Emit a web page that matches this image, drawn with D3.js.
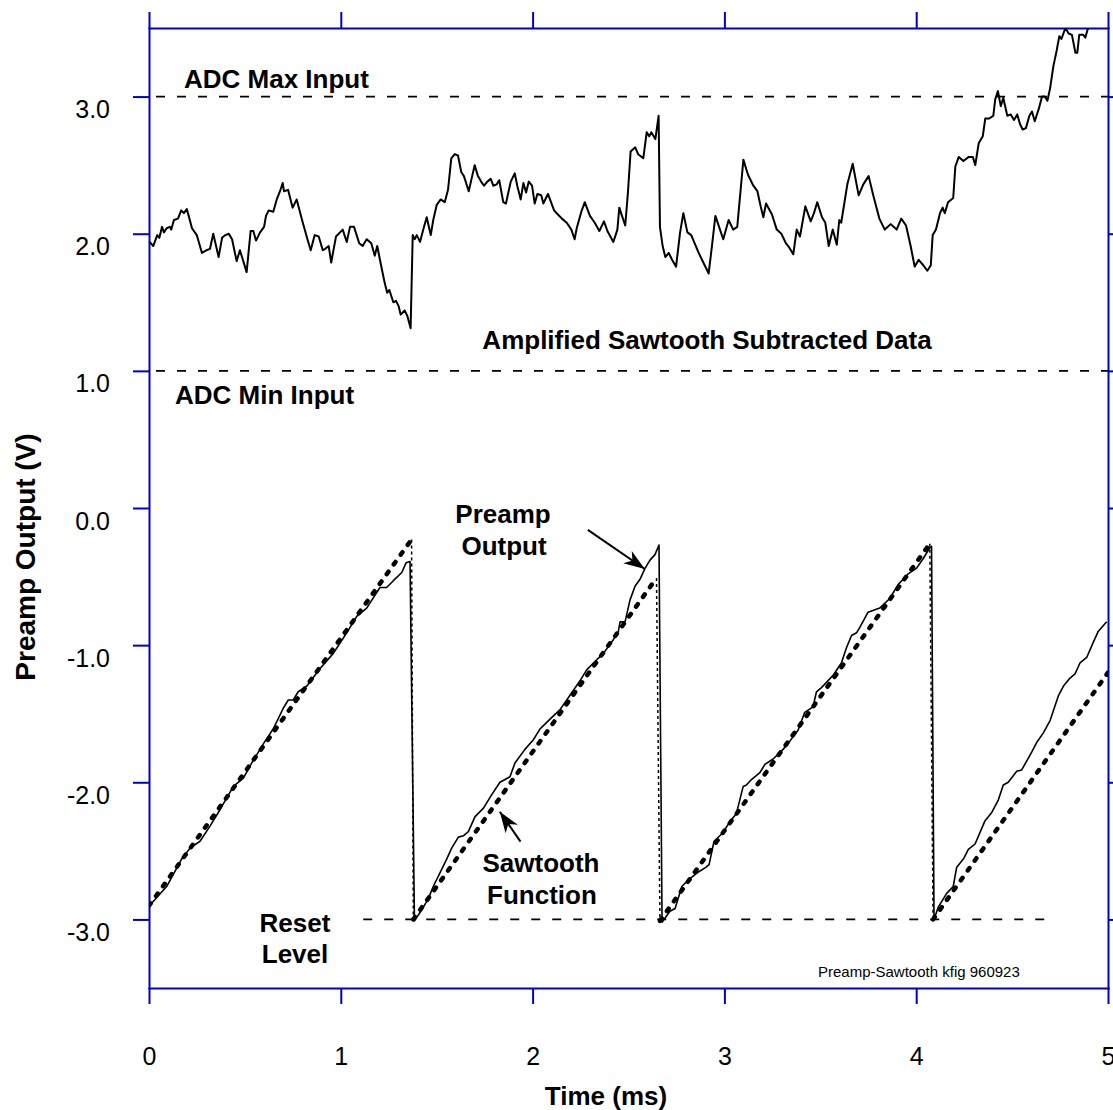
<!DOCTYPE html>
<html>
<head>
<meta charset="utf-8">
<script src="https://cdn.jsdelivr.net/npm/d3@7"></script>
<style>
    body { margin: 0; background: #ffffff; }
    text { font-family: "Liberation Sans", Arial, sans-serif; fill: #000000; }
</style>
</head>
<body>
<div id="chart"></div>
<script>
// Tick values for both axes
const timeTicks = [0, 1, 2, 3, 4, 5];
const voltTicks = [-3, -2, -1, 0, 1, 2, 3];

// ADC input limits and the reset level (V), reset line runs between two times (ms)
const adcLimits = [3.0, 1.0];
const resetLevel = -3.0;
const resetSpan = [1.117, 4.706];

// Amplified sawtooth subtracted data: [time ms, volts]
const subtractedData = [
    [0.004, 1.94], [0.022, 1.91], [0.043, 1.99], [0.054, 1.97], [0.068, 2.05], [0.078, 2.01], [0.092, 2.04],
    [0.109, 2.05], [0.116, 2.03], [0.130, 2.10], [0.151, 2.11], [0.168, 2.17], [0.182, 2.15], [0.197, 2.18],
    [0.207, 2.13], [0.224, 2.04], [0.249, 1.99], [0.276, 1.86], [0.301, 1.88], [0.318, 1.89], [0.335, 2.00],
    [0.363, 1.83], [0.381, 1.97], [0.398, 1.99], [0.416, 2.00], [0.433, 1.96], [0.457, 1.80], [0.474, 1.88],
    [0.509, 1.72], [0.530, 2.02], [0.544, 2.02], [0.558, 1.95], [0.579, 2.01], [0.600, 2.05], [0.610, 2.13],
    [0.624, 2.17], [0.648, 2.16], [0.666, 2.25], [0.683, 2.31], [0.697, 2.37], [0.704, 2.31], [0.725, 2.32],
    [0.749, 2.19], [0.770, 2.25], [0.798, 2.10], [0.822, 1.98], [0.843, 1.88], [0.864, 1.99], [0.885, 1.98],
    [0.906, 1.88], [0.919, 1.89], [0.937, 1.91], [0.950, 1.79], [0.975, 1.98], [0.996, 2.01], [1.010, 2.03],
    [1.031, 1.94], [1.048, 2.05], [1.069, 2.05], [1.096, 1.93], [1.114, 1.91], [1.135, 1.96], [1.159, 1.93],
    [1.177, 1.84], [1.190, 1.91], [1.204, 1.81], [1.229, 1.64], [1.242, 1.57], [1.253, 1.59], [1.274, 1.50],
    [1.288, 1.51], [1.302, 1.47], [1.312, 1.41], [1.333, 1.44], [1.347, 1.40], [1.364, 1.31], [1.375, 1.99],
    [1.385, 1.96], [1.396, 1.99], [1.413, 1.94], [1.430, 2.03], [1.448, 2.12], [1.469, 1.99], [1.482, 2.10],
    [1.500, 2.21], [1.521, 2.25], [1.542, 2.23], [1.559, 2.32], [1.576, 2.55], [1.594, 2.58], [1.611, 2.57],
    [1.628, 2.45], [1.642, 2.42], [1.667, 2.31], [1.698, 2.50], [1.715, 2.42], [1.736, 2.37], [1.747, 2.35],
    [1.764, 2.38], [1.782, 2.40], [1.795, 2.35], [1.813, 2.36], [1.826, 2.39], [1.847, 2.23], [1.861, 2.22],
    [1.886, 2.38], [1.907, 2.44], [1.920, 2.35], [1.938, 2.25], [1.952, 2.37], [1.966, 2.30], [1.980, 2.38],
    [1.997, 2.35], [2.011, 2.22], [2.025, 2.29], [2.045, 2.28], [2.056, 2.22], [2.080, 2.29], [2.112, 2.17],
    [2.132, 2.14], [2.153, 2.11], [2.178, 2.08], [2.202, 2.03], [2.219, 1.96], [2.230, 2.04], [2.254, 2.16],
    [2.272, 2.23], [2.299, 2.13], [2.324, 2.08], [2.348, 2.02], [2.372, 2.09], [2.390, 2.02], [2.421, 1.94],
    [2.442, 2.03], [2.452, 2.19], [2.466, 2.13], [2.483, 2.06], [2.497, 2.30], [2.511, 2.60], [2.535, 2.63],
    [2.550, 2.58], [2.577, 2.55], [2.595, 2.74], [2.608, 2.71], [2.619, 2.74], [2.640, 2.69], [2.657, 2.86],
    [2.664, 2.05], [2.678, 1.91], [2.692, 1.83], [2.710, 1.86], [2.727, 1.81], [2.748, 1.76], [2.769, 2.01],
    [2.786, 2.15], [2.807, 2.01], [2.827, 1.99], [2.845, 1.93], [2.866, 1.86], [2.890, 1.79], [2.918, 1.71],
    [2.935, 1.91], [2.953, 2.13], [2.977, 2.03], [2.994, 1.96], [3.022, 2.10], [3.046, 2.03], [3.067, 2.05],
    [3.099, 2.54], [3.123, 2.43], [3.151, 2.35], [3.172, 2.31], [3.189, 2.20], [3.203, 2.12], [3.217, 2.22],
    [3.248, 2.14], [3.273, 2.03], [3.297, 2.00], [3.321, 1.93], [3.338, 1.90], [3.359, 1.85], [3.377, 2.03],
    [3.394, 1.98], [3.422, 2.20], [3.450, 2.09], [3.467, 2.15], [3.484, 2.23], [3.509, 2.12], [3.526, 2.08],
    [3.544, 1.91], [3.565, 2.03], [3.586, 1.92], [3.599, 2.10], [3.609, 2.08], [3.641, 2.36], [3.669, 2.51],
    [3.700, 2.28], [3.724, 2.36], [3.752, 2.42], [3.776, 2.28], [3.808, 2.11], [3.836, 2.03], [3.867, 2.07],
    [3.898, 2.03], [3.922, 2.11], [3.947, 2.06], [3.971, 1.91], [3.992, 1.76], [4.013, 1.81], [4.037, 1.77],
    [4.058, 1.73], [4.076, 1.77], [4.086, 1.99], [4.103, 2.03], [4.124, 2.15], [4.138, 2.19], [4.149, 2.15],
    [4.166, 2.23], [4.193, 2.26], [4.204, 2.49], [4.222, 2.56], [4.246, 2.53], [4.274, 2.56], [4.295, 2.56],
    [4.308, 2.50], [4.326, 2.66], [4.347, 2.71], [4.360, 2.84], [4.381, 2.84], [4.402, 2.86], [4.412, 2.98],
    [4.426, 3.04], [4.441, 2.93], [4.454, 2.99], [4.475, 2.86], [4.493, 2.87], [4.510, 2.83], [4.527, 2.87],
    [4.541, 2.80], [4.555, 2.76], [4.572, 2.77], [4.590, 2.86], [4.604, 2.89], [4.618, 2.82], [4.639, 2.91],
    [4.656, 3.00], [4.670, 3.00], [4.684, 2.97], [4.698, 3.06], [4.715, 3.22], [4.733, 3.34], [4.746, 3.44],
    [4.757, 3.42], [4.778, 3.50], [4.795, 3.46], [4.812, 3.45], [4.830, 3.32], [4.840, 3.32], [4.850, 3.45],
    [4.871, 3.45], [4.882, 3.43], [4.896, 3.50], [4.930, 3.58], [4.970, 3.62], [5.000, 3.60]
];

// Preamp output: [time ms, volts]
const preampOutput = [
    [0.002, -2.90], [0.092, -2.76], [0.170, -2.56], [0.214, -2.48], [0.266, -2.43], [0.318, -2.32], [0.370, -2.20],
    [0.440, -2.03], [0.492, -1.97], [0.535, -1.86], [0.596, -1.72], [0.648, -1.61], [0.700, -1.46], [0.726, -1.40],
    [0.752, -1.40], [0.778, -1.34], [0.822, -1.30], [0.892, -1.17], [0.961, -1.06], [1.031, -0.91], [1.083, -0.79],
    [1.135, -0.73], [1.204, -0.58], [1.239, -0.58], [1.274, -0.53], [1.318, -0.47], [1.340, -0.40], [1.361, -0.39],
    [1.384, -3.01],
    [1.413, -2.95], [1.456, -2.85], [1.482, -2.76], [1.517, -2.66], [1.552, -2.56], [1.578, -2.48], [1.613, -2.40],
    [1.639, -2.39], [1.665, -2.36], [1.700, -2.25], [1.743, -2.19], [1.787, -2.09], [1.830, -2.00], [1.882, -1.96],
    [1.908, -1.86], [1.960, -1.76], [2.004, -1.69], [2.039, -1.61], [2.091, -1.54], [2.143, -1.47], [2.178, -1.40],
    [2.247, -1.26], [2.282, -1.18], [2.317, -1.13], [2.369, -1.06], [2.421, -0.96], [2.447, -0.90], [2.456, -0.83],
    [2.482, -0.83], [2.508, -0.67], [2.534, -0.57], [2.560, -0.52], [2.586, -0.44], [2.612, -0.38], [2.638, -0.34],
    [2.659, -0.27], [2.675, -3.02],
    [2.716, -2.94], [2.743, -2.92], [2.778, -2.76], [2.814, -2.71], [2.858, -2.66], [2.903, -2.62], [2.920, -2.60],
    [2.946, -2.43], [2.991, -2.37], [3.027, -2.29], [3.062, -2.23], [3.080, -2.13], [3.098, -2.03], [3.115, -2.02],
    [3.141, -1.98], [3.185, -1.93], [3.211, -1.87], [3.254, -1.83], [3.306, -1.76], [3.341, -1.70], [3.384, -1.62],
    [3.419, -1.49], [3.462, -1.45], [3.480, -1.34], [3.506, -1.31], [3.567, -1.22], [3.610, -1.13], [3.636, -1.02],
    [3.663, -0.93], [3.689, -0.91], [3.706, -0.87], [3.749, -0.76], [3.810, -0.73], [3.862, -0.66], [3.905, -0.56],
    [3.958, -0.48], [4.001, -0.44], [4.036, -0.37], [4.071, -0.29], [4.080, -0.28], [4.093, -3.00],
    [4.115, -2.91], [4.159, -2.81], [4.193, -2.76], [4.211, -2.62], [4.246, -2.56], [4.272, -2.49], [4.307, -2.45],
    [4.359, -2.28], [4.394, -2.22], [4.428, -2.13], [4.454, -2.02], [4.480, -2.00], [4.524, -1.92], [4.550, -1.91],
    [4.602, -1.78], [4.628, -1.71], [4.663, -1.64], [4.698, -1.55], [4.741, -1.37], [4.767, -1.30], [4.802, -1.24],
    [4.828, -1.21], [4.854, -1.13], [4.889, -1.09], [4.923, -0.98], [4.949, -0.90], [4.993, -0.83]
];

// Sawtooth function corners: [time ms, volts]
const sawtoothFunction = [
    [0.000, -2.90], [1.369, -0.23], [1.378, -3.00], [2.646, -0.51], [2.664, -3.01],
    [4.071, -0.26], [4.088, -3.00], [5.000, -1.20]
];

// Annotation arrows: tail and tip in [time ms, volts]
const arrows = [
    [[2.288, -0.16], [2.585, -0.445]],
    [[1.937, -2.433], [1.829, -2.215]]
];

const width = 1113;
const height = 1110;
const blue = "#0000cc";

const xScale = d3.scaleLinear()
    .domain([0, 5])
    .range([149, 1108]);

const yScale = d3.scaleLinear()
    .domain([-3.5, 3.5])
    .range([988, 28]);

const svg = d3.select("#chart")
    .append("svg")
    .attr("width", width)
    .attr("height", height)
    .style("display", "block");

svg.append("rect")
    .attr("width", width)
    .attr("height", height)
    .attr("fill", "#ffffff");

const defs = svg.append("defs");

defs.append("clipPath")
    .attr("id", "plot-clip")
    .append("rect")
    .attr("x", xScale(0))
    .attr("y", yScale(3.5))
    .attr("width", xScale(5) - xScale(0))
    .attr("height", yScale(-3.5) - yScale(3.5));

defs.append("marker")
    .attr("id", "arrowhead")
    .attr("viewBox", "-22 -9 24 18")
    .attr("refX", 0)
    .attr("refY", 0)
    .attr("markerWidth", 24)
    .attr("markerHeight", 18)
    .attr("markerUnits", "userSpaceOnUse")
    .attr("orient", "auto")
    .append("path")
    .attr("d", "M0,0L-21,-7.5L-15,0L-21,7.5Z")
    .attr("fill", "#000000");

// Axes: outward ticks on all four sides, labels only left and bottom
const styleAxis = g => {
    g.selectAll(".domain")
        .attr("stroke", blue)
        .attr("stroke-width", 2)
        .attr("stroke-linecap", "square");
    g.selectAll(".tick line")
        .attr("stroke", blue)
        .attr("stroke-width", 2);
    g.selectAll("text")
        .attr("fill", "#000000")
        .style("font-family", "'Liberation Sans', Arial, sans-serif")
        .style("font-size", "25px");
};

svg.append("g")
    .attr("transform", `translate(0, ${yScale(-3.5)})`)
    .call(d3.axisBottom(xScale)
        .tickValues(timeTicks)
        .tickSize(16)
        .tickSizeOuter(0)
        .tickPadding(43)
        .tickFormat(d3.format("d")))
    .call(styleAxis);

svg.append("g")
    .attr("transform", `translate(0, ${yScale(3.5)})`)
    .call(d3.axisTop(xScale)
        .tickValues(timeTicks)
        .tickSize(16)
        .tickSizeOuter(0)
        .tickFormat(""))
    .call(styleAxis);

svg.append("g")
    .attr("transform", `translate(${xScale(0)}, 0)`)
    .call(d3.axisLeft(yScale)
        .tickValues(voltTicks)
        .tickSize(16)
        .tickSizeOuter(0)
        .tickPadding(23)
        .tickFormat(d => d.toFixed(1)))
    .call(styleAxis)
    .selectAll("text")
    .attr("dy", 21);

svg.append("g")
    .attr("transform", `translate(${xScale(5)}, 0)`)
    .call(d3.axisRight(yScale)
        .tickValues(voltTicks)
        .tickSize(16)
        .tickSizeOuter(0)
        .tickFormat(""))
    .call(styleAxis);

const plot = svg.append("g")
    .attr("clip-path", "url(#plot-clip)");

// Dashed reference lines
adcLimits.forEach(v => {
    plot.append("line")
        .attr("x1", xScale(0))
        .attr("x2", xScale(5))
        .attr("y1", yScale(v))
        .attr("y2", yScale(v))
        .attr("stroke", "#000000")
        .attr("stroke-width", 1.8)
        .attr("stroke-dasharray", "9,12")
        .attr("stroke-dashoffset", 14);
});

plot.append("line")
    .attr("x1", xScale(resetSpan[0]))
    .attr("x2", xScale(resetSpan[1]))
    .attr("y1", yScale(resetLevel))
    .attr("y2", yScale(resetLevel))
    .attr("stroke", "#000000")
    .attr("stroke-width", 1.8)
    .attr("stroke-dasharray", "9,12");

const line = d3.line()
    .x(d => xScale(d[0]))
    .y(d => yScale(d[1]));

// Sawtooth function: heavy dots on the ramps, fine dots on the resets
d3.pairs(sawtoothFunction).forEach(([a, b]) => {
    const rising = b[1] > a[1];
    plot.append("path")
        .attr("d", line([a, b]))
        .attr("fill", "none")
        .attr("stroke", "#000000")
        .attr("stroke-width", rising ? 4.5 : 1.5)
        .attr("stroke-linecap", rising ? "round" : "butt")
        .attr("stroke-dasharray", rising ? "3,9" : "3,3");
});

plot.append("path")
    .datum(preampOutput)
    .attr("d", line)
    .attr("fill", "none")
    .attr("stroke", "#000000")
    .attr("stroke-width", 1.6)
    .attr("stroke-linejoin", "round");

plot.append("path")
    .datum(subtractedData)
    .attr("d", line)
    .attr("fill", "none")
    .attr("stroke", "#000000")
    .attr("stroke-width", 2)
    .attr("stroke-linejoin", "round");

// Arrows pointing at the two traces
arrows.forEach(([tail, tip]) => {
    svg.append("line")
        .attr("x1", xScale(tail[0]))
        .attr("y1", yScale(tail[1]))
        .attr("x2", xScale(tip[0]))
        .attr("y2", yScale(tip[1]))
        .attr("stroke", "#000000")
        .attr("stroke-width", 2)
        .attr("marker-end", "url(#arrowhead)");
});

// Text labels
const boldLabel = (text, x, y, anchor) => {
    svg.append("text")
        .attr("x", x)
        .attr("y", y)
        .attr("text-anchor", anchor)
        .style("font-size", "26px")
        .style("font-weight", "bold")
        .text(text);
};

boldLabel("ADC Max Input", 184, 88, "start");
boldLabel("Amplified Sawtooth Subtracted Data", 707, 349, "middle");
boldLabel("ADC Min Input", 175, 404, "start");
boldLabel("Preamp", 503, 523, "middle");
boldLabel("Output", 504, 555, "middle");
boldLabel("Sawtooth", 541, 872, "middle");
boldLabel("Function", 542, 904, "middle");
boldLabel("Reset", 295, 932, "middle");
boldLabel("Level", 295, 963, "middle");
boldLabel("Time (ms)", 606, 1105, "middle");

svg.append("text")
    .attr("transform", "translate(35, 557) rotate(-90)")
    .attr("text-anchor", "middle")
    .style("font-size", "28px")
    .style("font-weight", "bold")
    .text("Preamp Output (V)");

svg.append("text")
    .attr("x", 818)
    .attr("y", 977)
    .style("font-size", "15px")
    .text("Preamp-Sawtooth kfig 960923");
</script>
</body>
</html>
